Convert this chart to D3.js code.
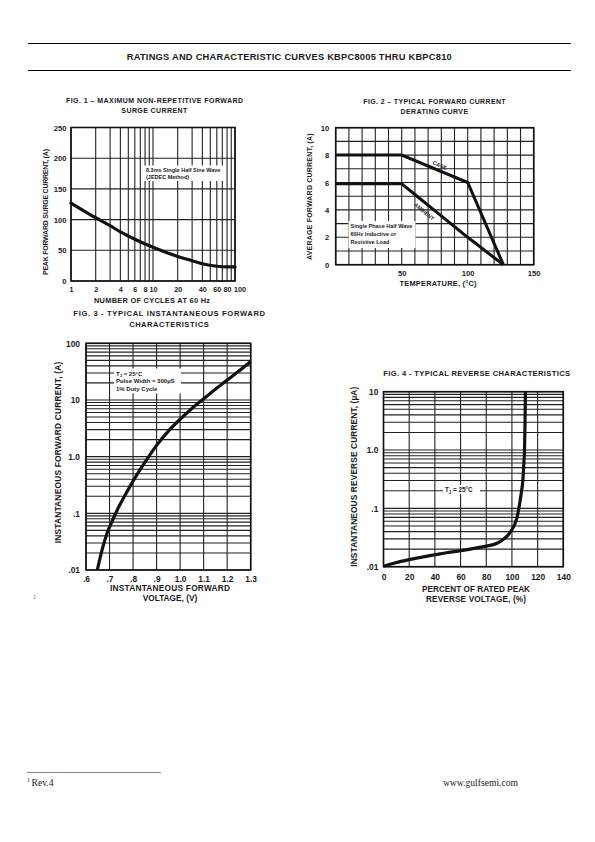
<!DOCTYPE html>
<html><head><meta charset="utf-8">
<script src="https://cdn.jsdelivr.net/npm/d3@7/dist/d3.min.js"></script>
<style>
body{margin:0;background:#fff;}
svg{display:block;}
text{font-family:"Liberation Sans",Arial,Helvetica,sans-serif;font-weight:bold;fill:#1a1a1a;}
text.serif{font-family:"Liberation Serif","Times New Roman",serif;font-weight:normal;fill:#222;}
</style></head><body>
<svg id="c" width="595" height="842"></svg>
<script>
// ---------------- data ----------------
const headerTitle = "RATINGS AND CHARACTERISTIC CURVES KBPC8005 THRU KBPC810";

// Fig 1
const fig1Cycles  = [1, 2, 3, 4, 6, 10, 20, 30, 40, 60, 80, 100];
const fig1Current = [127, 103, 90, 80, 68, 55, 40, 33, 28, 24, 23, 23];
const fig1XGrid   = [1,2,3,4,5,6,7,8,9,10,20,30,40,50,60,70,80,90,100];
const fig1XTicks  = [1, 2, 4, 6, 8, 10, 20, 40, 60, 80, 100];
const fig1YTicks  = [0, 50, 100, 150, 200, 250];

// Fig 2
const fig2Temp    = [0, 50, 100, 127];
const fig2Case    = [8, 8, 6, 0];
const fig2Ambient = [5.9, 5.9, 2, 0];
const fig2XTicks  = [50, 100, 150];
const fig2YTicks  = [0, 2, 4, 6, 8, 10];
const fig2XGrid   = [0,10,20,30,40,50,60,70,80,90,100,110,120,130,140,150];
const fig2YGrid   = [0,1,2,3,4,5,6,7,8,9,10];

// Fig 3
const fig3Voltage = [0.648, 0.67, 0.69, 0.71, 0.74, 0.77, 0.80, 0.85, 0.90, 0.95, 1.00, 1.05, 1.10, 1.15, 1.20, 1.25, 1.30];
const fig3Current = [0.01, 0.024, 0.045, 0.071, 0.132, 0.224, 0.37, 0.79, 1.58, 2.82, 4.57, 7.08, 10.5, 15.5, 22.4, 32.4, 47.9];
const fig3XTicks  = [0.6, 0.7, 0.8, 0.9, 1.0, 1.1, 1.2, 1.3];
const fig3XLabels = [".6", ".7", ".8", ".9", "1.0", "1.1", "1.2", "1.3"];
const fig3YTicks  = [0.01, 0.1, 1, 10, 100];
const fig3YLabels = [".01", ".1", "1.0", "10", "100"];

// Fig 4
const fig4Percent = [0, 10, 20, 30, 40, 50, 60, 70, 80, 88, 92, 96, 99, 102, 104, 106, 107.5, 108.5, 109.3, 109.8, 110.2, 110.5];
const fig4Current = [0.0102, 0.0118, 0.0132, 0.0146, 0.016, 0.0175, 0.0188, 0.0205, 0.0225, 0.025, 0.028, 0.033, 0.04, 0.052, 0.07, 0.12, 0.2, 0.3, 0.6, 1.0, 3, 10];
const fig4XTicks  = [0, 20, 40, 60, 80, 100, 120, 140];
const fig4YTicks  = [0.01, 0.1, 1, 10];
const fig4YLabels = [".01", ".1", "1.0", "10"];

// ---------------- helpers ----------------
const svg = d3.select("#c");
const INK = "#1a1a1a";

function addText(g, x, y, s, size, o = {}) {
  const t = g.append("text").attr("x", x).attr("y", y).attr("font-size", size).text(s);
  t.attr("text-anchor", o.anchor || "start");
  if (o.len) t.attr("textLength", o.len).attr("lengthAdjust", "spacing");
  if (o.rotate) t.attr("transform", `rotate(${o.rotate} ${x} ${y})`);
  if (o.ls) t.attr("letter-spacing", o.ls);
  if (o.cls) t.attr("class", o.cls);
  return t;
}

function logGrid(lo, hi) {
  const out = [];
  for (let e = Math.round(Math.log10(lo)); e < Math.round(Math.log10(hi)); e++)
    for (let m = 1; m <= 9; m++) out.push(m * Math.pow(10, e));
  out.push(hi);
  return out;
}

function panel(box, x, y, xGrid, yGrid) {
  const g = svg.append("g");
  g.append("g").selectAll("line").data(xGrid).join("line")
    .attr("x1", d => x(d)).attr("x2", d => x(d))
    .attr("y1", box.top).attr("y2", box.bottom)
    .attr("stroke", "#222").attr("stroke-width", 1.1);
  g.append("g").selectAll("line").data(yGrid).join("line")
    .attr("y1", d => y(d)).attr("y2", d => y(d))
    .attr("x1", box.left).attr("x2", box.right)
    .attr("stroke", "#222").attr("stroke-width", 1.1);
  g.append("rect").attr("x", box.left).attr("y", box.top)
    .attr("width", box.right - box.left).attr("height", box.bottom - box.top)
    .attr("fill", "none").attr("stroke", "#111").attr("stroke-width", 1.6);
  return g;
}

function axisBottom(g, scale, ticks, labels, yPos, size, off) {
  const a = g.append("g").attr("transform", `translate(0,${yPos})`)
    .call(d3.axisBottom(scale).tickValues(ticks).tickSize(0).tickFormat((d, i) => labels[i]));
  a.attr("font-size", null).attr("font-family", null);
  a.select(".domain").remove();
  a.selectAll("text").attr("y", off).attr("dy", null).attr("font-size", size).attr("fill", INK);
  return a;
}
function axisLeft(g, scale, ticks, labels, xPos, size, off) {
  const a = g.append("g").attr("transform", `translate(${xPos},0)`)
    .call(d3.axisLeft(scale).tickValues(ticks).tickSize(0).tickFormat((d, i) => labels[i]));
  a.attr("font-size", null).attr("font-family", null);
  a.select(".domain").remove();
  a.selectAll("text").attr("x", -off).attr("dy", "0.35em").attr("font-size", size).attr("fill", INK);
  return a;
}

function note(g, x, y, w, h, lines, size, lh) {
  g.append("rect").attr("x", x).attr("y", y).attr("width", w).attr("height", h).attr("fill", "#fff");
  lines.forEach((ln, i) => {
    const t = g.append("text").attr("x", x + 2).attr("y", y + size + 1 + i * lh).attr("font-size", size);
    if (Array.isArray(ln)) {
      ln.forEach(p => {
        const ts = t.append("tspan").text(p.t);
        if (p.sub) ts.attr("font-size", size * 0.7).attr("dy", size * 0.25);
        if (p.up) ts.attr("dy", -size * 0.25);
      });
    } else t.text(ln);
  });
}

// ---------------- header / footer ----------------
svg.append("line").attr("x1", 28).attr("x2", 571).attr("y1", 43.5).attr("y2", 43.5).attr("stroke", "#000").attr("stroke-width", 1);
svg.append("line").attr("x1", 28).attr("x2", 571).attr("y1", 70.5).attr("y2", 70.5).attr("stroke", "#000").attr("stroke-width", 1);
addText(svg, 289.2, 60, headerTitle, 9.3, { anchor: "middle", len: 325 });

svg.append("line").attr("x1", 27).attr("x2", 161).attr("y1", 772.5).attr("y2", 772.5).attr("stroke", "#777").attr("stroke-width", 0.9);
addText(svg, 27, 782, "1", 6, { cls: "serif" });
addText(svg, 31.5, 785.5, "Rev.4", 9.6, { cls: "serif" });
addText(svg, 518, 785.5, "www.gulfsemi.com", 9.6, { cls: "serif", anchor: "end" });
addText(svg, 33, 599, "1", 6, { cls: "serif" }).style("fill", "#666");

// ---------------- Fig 1 ----------------
{
  const box = { left: 71, right: 235, top: 127.5, bottom: 281 };
  const x = d3.scaleLog().domain([1, 100]).range([box.left, box.right]);
  const y = d3.scaleLinear().domain([0, 250]).range([box.bottom, box.top]);
  const g = panel(box, x, y, fig1XGrid, fig1YTicks);
  note(g, 144, 165.5, 80, 15.5, ["8.3ms Single Half Sine Wave", "(JEDEC Method)"], 5.5, 7);
  g.append("path").datum(fig1Cycles.map((c, i) => [c, fig1Current[i]]))
    .attr("d", d3.line().x(d => x(d[0])).y(d => y(d[1])).curve(d3.curveMonotoneX))
    .attr("fill", "none").attr("stroke", "#111").attr("stroke-width", 3.2).attr("stroke-linecap", "round");
  const ax = axisBottom(g, x, fig1XTicks, fig1XTicks.map(String), box.bottom, 7.2, 11.3);
  ax.selectAll("text").filter(d => d === 100).attr("dx", 4.5);
  axisLeft(g, y, fig1YTicks, fig1YTicks.map(String), box.left, 7.6, 4.5);
  addText(g, 154.5, 103.3, "FIG. 1 – MAXIMUM NON-REPETITIVE FORWARD", 7, { anchor: "middle", len: 177 });
  addText(g, 154.5, 112.5, "SURGE CURRENT", 7, { anchor: "middle", ls: 0.4 });
  addText(g, 152, 302.7, "NUMBER OF CYCLES AT 60 Hz", 7.4, { anchor: "middle", len: 116 });
  addText(g, 47.5, 212, "PEAK FORWARD SURGE CURRENT, (A)", 7, { anchor: "middle", len: 126, rotate: -90 });
}

// ---------------- Fig 2 ----------------
{
  const box = { left: 335.7, right: 533.7, top: 127.7, bottom: 264.7 };
  const x = d3.scaleLinear().domain([0, 150]).range([box.left, box.right]);
  const y = d3.scaleLinear().domain([0, 10]).range([box.bottom, box.top]);
  const g = panel(box, x, y, fig2XGrid, fig2YGrid);
  note(g, 348.5, 221, 67, 27, ["Single Phase Half Wave", "60Hz Inductive or", "Resistive Load"], 5.5, 8);
  const line = d3.line().x(d => x(d[0])).y(d => y(d[1]));
  [fig2Case, fig2Ambient].forEach(series => {
    g.append("path").datum(fig2Temp.map((t, i) => [t, series[i]]))
      .attr("d", line).attr("fill", "none").attr("stroke", "#111").attr("stroke-width", 3)
      .attr("stroke-linejoin", "miter");
  });
  addText(g, 439, 167, "CASE", 5.3, { anchor: "middle", rotate: 24 });
  addText(g, 423, 213, "AMBIENT", 5.3, { anchor: "middle", rotate: 40 });
  axisBottom(g, x, fig2XTicks, fig2XTicks.map(String), box.bottom, 7.6, 11);
  axisLeft(g, y, fig2YTicks, fig2YTicks.map(String), box.left, 7.6, 6.4);
  addText(g, 434.5, 104.3, "FIG. 2 – TYPICAL FORWARD CURRENT", 7, { anchor: "middle", len: 142.3 });
  addText(g, 434.5, 114, "DERATING CURVE", 7, { anchor: "middle", ls: 0.4 });
  addText(g, 438, 285.7, "TEMPERATURE, (°C)", 7.4, { anchor: "middle", len: 77 });
  addText(g, 312.5, 196.7, "AVERAGE FORWARD CURRENT, (A)", 7, { anchor: "middle", len: 126.7, rotate: -90 });
}

// ---------------- Fig 3 ----------------
{
  const box = { left: 86, right: 250.7, top: 343.3, bottom: 570 };
  const x = d3.scaleLinear().domain([0.6, 1.3]).range([box.left, box.right]);
  const y = d3.scaleLog().domain([0.01, 100]).range([box.bottom, box.top]);
  const g = panel(box, x, y, fig3XTicks, logGrid(0.01, 100));
  note(g, 114, 368.5, 67, 25, [[{ t: "T" }, { t: "J", sub: true }, { t: " = 25°C", up: true }], "Pulse Width = 300µS", "1% Duty Cycle"], 6, 7.6);
  g.append("path").datum(fig3Voltage.map((v, i) => [v, fig3Current[i]]))
    .attr("d", d3.line().x(d => x(d[0])).y(d => y(d[1])).curve(d3.curveMonotoneX))
    .attr("fill", "none").attr("stroke", "#111").attr("stroke-width", 3.2);
  axisBottom(g, x, fig3XTicks, fig3XLabels, box.bottom, 8.4, 11.7);
  axisLeft(g, y, fig3YTicks, fig3YLabels, box.left, 8.4, 6);
  addText(g, 169.2, 316, "FIG. 3 - TYPICAL INSTANTANEOUS FORWARD", 7.6, { anchor: "middle", len: 191.7 });
  addText(g, 169.2, 327, "CHARACTERISTICS", 7.6, { anchor: "middle", ls: 0.5 });
  addText(g, 170, 591, "INSTANTANEOUS FORWARD", 8.3, { anchor: "middle", len: 120 });
  addText(g, 170, 600.7, "VOLTAGE, (V)", 8.3, { anchor: "middle" });
  addText(g, 61.3, 452.5, "INSTANTANEOUS FORWARD CURRENT, (A)", 8.4, { anchor: "middle", len: 181.7, rotate: -90 });
}

// ---------------- Fig 4 ----------------
{
  const box = { left: 383.5, right: 563.3, top: 391.7, bottom: 566.7 };
  const x = d3.scaleLinear().domain([0, 140]).range([box.left, box.right]);
  const y = d3.scaleLog().domain([0.01, 10]).range([box.bottom, box.top]);
  const g = panel(box, x, y, fig4XTicks, logGrid(0.01, 10));
  note(g, 443, 485, 37, 9, [[{ t: "T" }, { t: "J", sub: true }, { t: " = 25°C", up: true }]], 6.3, 8);
  g.append("path").datum(fig4Percent.map((v, i) => [v, fig4Current[i]]))
    .attr("d", d3.line().x(d => x(d[0])).y(d => y(d[1])).curve(d3.curveMonotoneX))
    .attr("fill", "none").attr("stroke", "#111").attr("stroke-width", 3.2);
  axisBottom(g, x, fig4XTicks, fig4XTicks.map(String), box.bottom, 8.4, 13.3);
  axisLeft(g, y, fig4YTicks, fig4YLabels, box.left, 8.4, 5.2);
  addText(g, 476.7, 376, "FIG. 4 - TYPICAL REVERSE CHARACTERISTICS", 7.6, { anchor: "middle", len: 186.7 });
  addText(g, 476, 591.7, "PERCENT OF RATED PEAK", 8.2, { anchor: "middle", len: 108 });
  addText(g, 476, 601.7, "REVERSE VOLTAGE, (%)", 8.2, { anchor: "middle", len: 100 });
  addText(g, 357, 476.7, "INSTANTANEOUS REVERSE CURRENT, (µA)", 8.4, { anchor: "middle", len: 180, rotate: -90 });
}
</script>
</body></html>
